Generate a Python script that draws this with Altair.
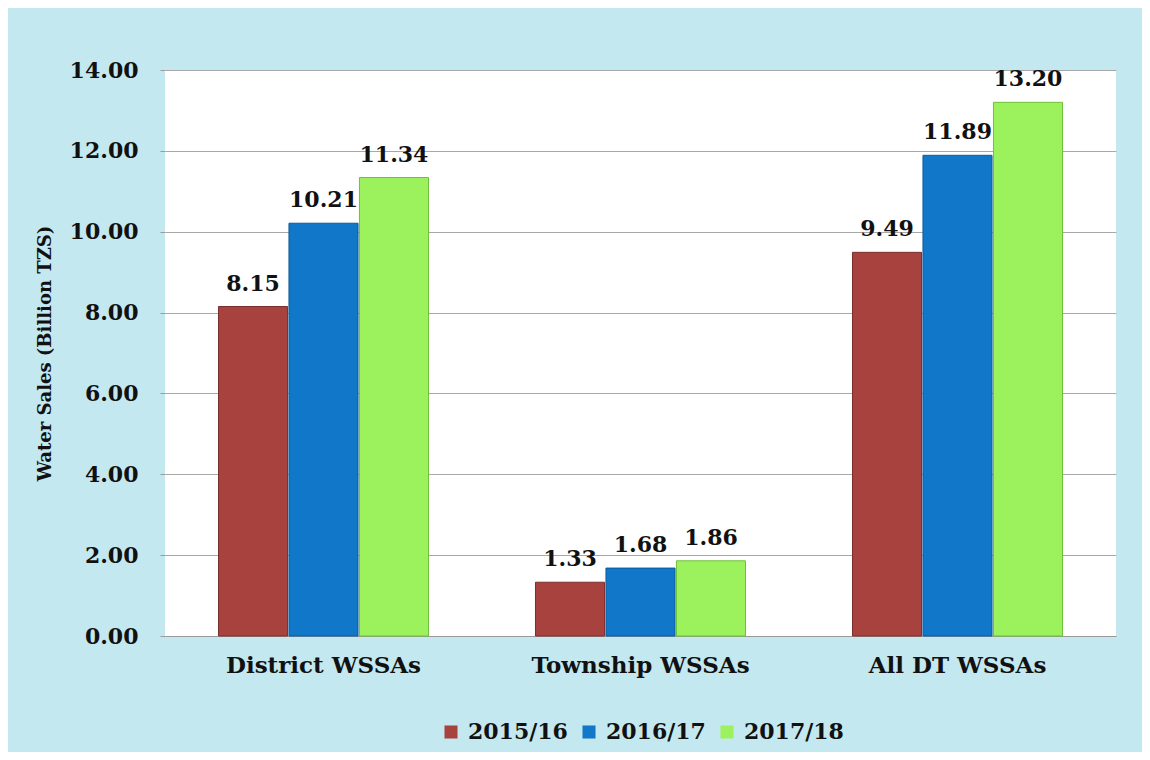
import altair as alt
import pandas as pd

categories = ["District WSSAs", "Township WSSAs", "All DT WSSAs"]
years = ["2015/16", "2016/17", "2017/18"]
v_2015 = [8.15, 1.33, 9.49]
v_2016 = [10.21, 1.68, 11.89]
v_2017 = [11.34, 1.86, 13.20]
y_ticks = [0, 2, 4, 6, 8, 10, 12, 14]
colors = ["#A8423F", "#1177C9", "#9CF25C"]

rows = []
for series, vals in zip(years, [v_2015, v_2016, v_2017]):
    for c, v in zip(categories, vals):
        rows.append({"Group": c, "Year": series, "Value": v, "Label": f"{v:.2f}"})
df = pd.DataFrame(rows)

FONT = "DejaVu Serif"

x_enc = alt.X("Group:N", sort=categories,
              scale=alt.Scale(paddingInner=0.3375, paddingOuter=0.16875),
              axis=alt.Axis(title=None, labelAngle=0, labelFont=FONT, labelFontWeight="bold",
                            labelFontSize=23, labelColor="#111111", labelPadding=18,
                            labelLimit=0,
                            ticks=False, domain=True, domainColor="#9a9a9a", grid=False))
y_enc = alt.Y("Value:Q", scale=alt.Scale(domain=[0, 14], nice=False),
              axis=alt.Axis(title="Water Sales (Billion TZS)", values=y_ticks, format=".2f",
                            labelFont=FONT, labelFontWeight="bold", labelFontSize=22,
                            labelColor="#111111", labelPadding=22, tickSize=5,
                            tickColor="#9a9a9a", domain=False, grid=True,
                            gridColor="#a8a8a8", gridWidth=1,
                            titleFont=FONT, titleFontWeight="bold", titleFontSize=18,
                            titleColor="#111111", titleX=-120, titleY=283,
                            titleBaseline="middle", titleAlign="center", titleAngle=-90))
xoff = alt.XOffset("Year:N", sort=years, scale=alt.Scale(paddingInner=0.02))

bars = alt.Chart(df).mark_bar(strokeWidth=1).encode(
    x=x_enc,
    y=y_enc,
    xOffset=xoff,
    color=alt.Color("Year:N", sort=years,
                    scale=alt.Scale(domain=years, range=colors),
                    legend=alt.Legend(title=None, orient="none", direction="horizontal",
                                      legendX=275, legendY=651, symbolType="square",
                                      symbolSize=170, symbolStrokeWidth=0,
                                      labelFont=FONT, labelFontWeight="bold",
                                      labelFontSize=22, labelColor="#111111",
                                      labelOffset=6, columnPadding=10)),
    stroke=alt.Stroke("Year:N", sort=years,
                      scale=alt.Scale(domain=years, range=["#7a2e2c", "#0b5a99", "#6fbf3c"]),
                      legend=None),
)

labels = alt.Chart(df).mark_text(font=FONT, fontWeight="bold", fontSize=22,
                                 color="#111111", baseline="alphabetic", dy=-16).encode(
    x=alt.X("Group:N", sort=categories),
    y="Value:Q",
    xOffset=alt.XOffset("Year:N", sort=years),
    text="Label:N",
)

chart = (bars + labels).properties(
    width=951, height=566,
    autosize=alt.AutoSizeParams(type="none"),
    padding={"left": 157, "top": 62, "right": 26, "bottom": 116},
    background="#C4E8F0",
).configure_view(fill="white", stroke=None)

chart.save("out.html", embed_options={"renderer": "svg", "actions": False})
